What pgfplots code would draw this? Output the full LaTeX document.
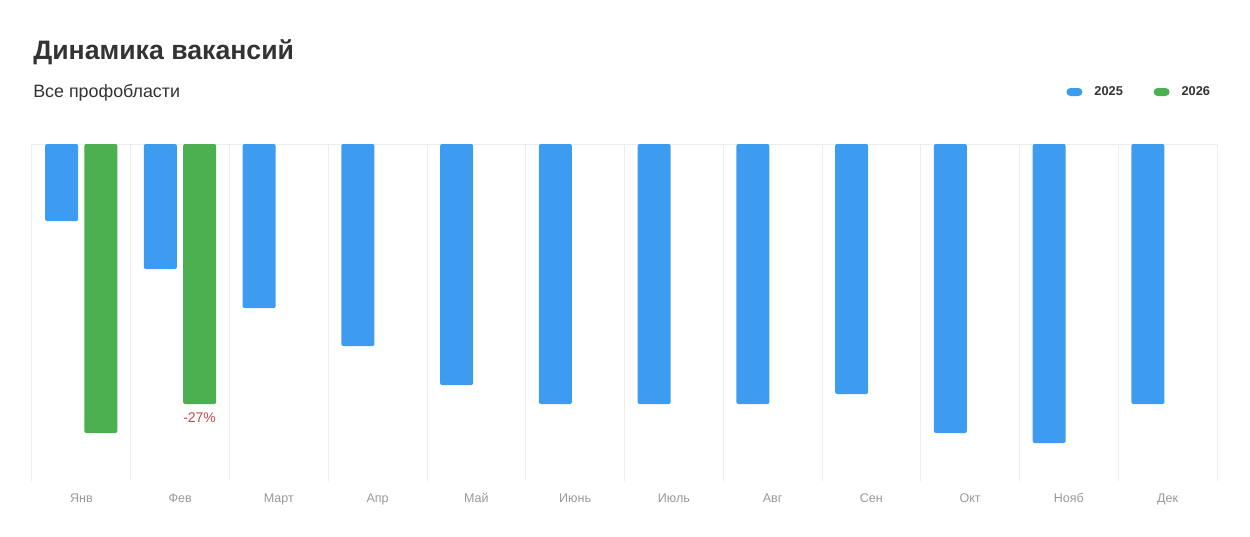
\documentclass[border=0pt]{standalone}
\usepackage{fontspec}
\setmainfont{Liberation Sans}
\usepackage{pgfplots}
\pgfplotsset{compat=1.18}

\definecolor{bar25}{HTML}{3D9CF0}
\definecolor{bar26}{HTML}{4CB050}
\definecolor{gridc}{HTML}{EDEDED}
\definecolor{titlec}{HTML}{333333}
\definecolor{tickc}{HTML}{999999}
\definecolor{pctc}{HTML}{C9464E}

\begin{document}
\begin{tikzpicture}
\path[use as bounding box, fill=white] (0,0) rectangle (937.5pt,402pt);

\begin{axis}[
    at={(24pt,41.25pt)}, anchor=south west,
    scale only axis,
    width=888.75pt, height=252.75pt,
    xmin=-0.5, xmax=11.5,
    ymin=0, ymax=337,
    y dir=reverse,
    axis line style={draw=none},
    major tick length=0pt, minor tick length=0pt,
    xtick={0,...,11},
    xticklabels={Янв,Фев,Март,Апр,Май,Июнь,Июль,Авг,Сен,Окт,Нояб,Дек},
    minor xtick={-0.5,0.5,...,11.5},
    xminorgrids=true,
    ytick={0}, yticklabels={},
    ymajorgrids=true,
    grid style={draw=gridc, line width=0.75pt},
    minor grid style={draw=gridc, line width=0.75pt},
    xticklabel style={font=\fontsize{9.4}{11}\selectfont, text=tickc, anchor=base, yshift=-16pt},
    ybar, bar width=24.75pt,
    legend columns=2,
    legend style={draw=none, fill=none, inner sep=0pt,
        at={([xshift=-3pt,yshift=39pt]axis description cs:1,1)}, anchor=east,
        font=\fontsize{9.6}{12}\selectfont\bfseries\color{titlec},
        /tikz/every even column/.append style={column sep=21pt}},
    legend image code/.code={\fill[rounded corners=3pt] (0pt,-3pt) rectangle (12pt,3pt);
        \path (19pt,0pt);},
]
% depths below the top line
\addplot[fill=bar25, draw=none, bar shift=-14.8pt, rounded corners=1.5pt] coordinates {
    (0,77) (1,125) (2,164) (3,202) (4,241) (5,260)
    (6,260) (7,260) (8,250) (9,289) (10,299) (11,260)
};
\addplot[fill=bar26, draw=none, bar shift=14.6pt, rounded corners=1.5pt,
    point meta=explicit symbolic,
    nodes near coords,
    every node near coord/.append style={anchor=north, inner sep=0pt, yshift=-6pt,
        font=\fontsize{10.5}{12}\selectfont, text=pctc}] coordinates {
    (0,289) [] (1,260) [-27\%]
};
\legend{2025,2026}
\end{axis}

\node[anchor=base west, inner sep=0pt, text=titlec, font=\fontsize{20}{24}\selectfont\bfseries]
    at (24.75pt,357pt) {Динамика вакансий};
\node[anchor=base west, inner sep=0pt, text=titlec, font=\fontsize{13.4}{16}\selectfont]
    at (24.75pt,328.9pt) {Все профобласти};
\end{tikzpicture}
\end{document}
